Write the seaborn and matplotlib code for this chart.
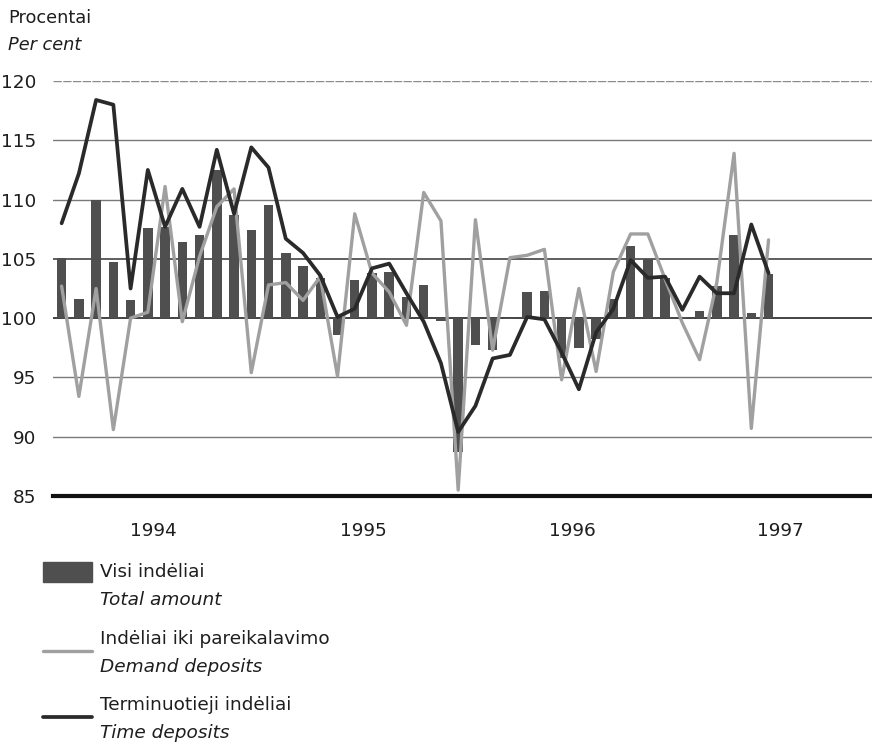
import numpy as np
import pandas as pd
import matplotlib
matplotlib.use("Agg")
import matplotlib.pyplot as plt
from matplotlib.patches import Rectangle
from matplotlib.lines import Line2D
import seaborn as sns

# monthly index values, Jan 1994 - Jun 1997 (same month previous year = 100)
months = pd.period_range("1994-01", periods=42, freq="M").strftime("%Y-%m").tolist()
total = [105.1, 101.6, 110.0, 104.7, 101.5, 107.6, 107.7, 106.4, 107.0, 112.5,
         108.7, 107.4, 109.5, 105.5, 104.4, 103.4, 98.6, 103.2, 103.8, 103.9,
         101.8, 102.8, 99.8, 88.7, 97.7, 97.3, 99.9, 102.2, 102.3, 96.6,
         97.5, 98.2, 101.6, 106.1, 105.0, 103.4, 100.1, 100.6, 102.7, 107.0,
         100.4, 103.7]
demand = [102.7, 93.4, 102.5, 90.6, 100.0, 100.5, 111.1, 99.7, 105.2, 109.4,
          110.9, 95.4, 102.8, 103.0, 101.5, 103.5, 95.1, 108.8, 103.8, 102.2,
          99.4, 110.6, 108.2, 85.5, 108.3, 97.3, 105.1, 105.3, 105.8, 94.8,
          102.5, 95.5, 103.9, 107.1, 107.1, 103.3, 99.6, 96.5, 103.0, 113.9,
          90.7, 106.6]
time_dep = [108.0, 112.2, 118.4, 118.0, 102.5, 112.5, 107.7, 110.9, 107.7, 114.2,
            108.8, 114.4, 112.7, 106.7, 105.5, 103.6, 100.1, 100.8, 104.2, 104.6,
            102.1, 99.7, 96.2, 90.4, 92.6, 96.6, 96.9, 100.1, 99.9, 97.1,
            94.0, 98.8, 100.8, 104.9, 103.4, 103.5, 100.7, 103.5, 102.1, 102.1,
            107.9, 103.8]
years = ["1994", "1995", "1996", "1997"]
year_pos = [5.3, 17.5, 29.6, 41.7]
yticks = [85, 90, 95, 100, 105, 110, 115, 120]

df = pd.DataFrame({"month": months, "total": total, "demand": demand, "time": time_dep})
df["i"] = np.arange(len(df))
df["total_dev"] = df["total"] - 100

W, H = 872, 748
fig = plt.figure(figsize=(W / 100, H / 100), dpi=100)
sns.set_style("white")
plt.rcParams["font.family"] = ["DejaVu Sans"]
FS = 13.3
TXT = "#1e1e1e"

ax = fig.add_axes([53 / W, 1 - 496 / H, (W - 53) / W, (496 - 81) / H])

# grid first, behind everything
for v in [90, 95, 110, 115]:
    ax.axhline(v, color="#7a7a7a", lw=1.0, zorder=0)
ax.axhline(120, color="#8a8a8a", lw=1.0, ls=(0, (6, 1)), zorder=0)
ax.axhline(105, color="#333333", lw=1.1, zorder=0)
ax.axhline(100, color="#222222", lw=1.2, zorder=0)

bar_color = "#4f4f4f"
sns.barplot(data=df, x="i", y="total_dev", native_scale=True, width=0.55,
            color=bar_color, saturation=1, bottom=100, ax=ax, zorder=2,
            edgecolor="none")
sns.lineplot(data=df, x="i", y="demand", color="#a0a0a0", lw=2.4, ax=ax, zorder=3)
sns.lineplot(data=df, x="i", y="time", color="#2a2a2a", lw=2.7, ax=ax, zorder=4)

ax.set_xlim(-0.5, 47.0)
ax.set_ylim(85, 120)
ax.set_yticks(yticks)
ax.set_yticklabels([str(t) for t in yticks], fontsize=FS, color=TXT)
ax.set_xticks(year_pos)
ax.set_xticklabels(years, fontsize=FS, color=TXT)
ax.tick_params(axis="both", length=0)
ax.tick_params(axis="y", pad=12)
ax.tick_params(axis="x", pad=19)
ax.set_xlabel("")
ax.set_ylabel("")
for s in ["top", "right", "left"]:
    ax.spines[s].set_visible(False)
ax.spines["bottom"].set_linewidth(3)
ax.spines["bottom"].set_color("#111111")

def fx(px):
    return px / W

def fy(py):
    return 1 - py / H

fig.text(fx(8), fy(18), "Procentai", fontsize=FS - 0.5, va="center", color=TXT)
fig.text(fx(8), fy(45), "Per cent", fontsize=FS - 0.5, va="center", style="italic", color=TXT)

# legend
fig.add_artist(Rectangle((fx(43), fy(582)), fx(49), (582 - 562) / H, color=bar_color))
fig.text(fx(100), fy(572), "Visi indėliai", fontsize=FS, va="center", color=TXT)
fig.text(fx(100), fy(600), "Total amount", fontsize=FS, va="center", style="italic", color=TXT)

fig.add_artist(Line2D([fx(43), fx(92)], [fy(651), fy(651)], color="#a0a0a0", lw=2.4))
fig.text(fx(100), fy(639), "Indėliai iki pareikalavimo", fontsize=FS, va="center", color=TXT)
fig.text(fx(100), fy(667), "Demand deposits", fontsize=FS, va="center", style="italic", color=TXT)

fig.add_artist(Line2D([fx(43), fx(92)], [fy(717), fy(717)], color="#2a2a2a", lw=2.7))
fig.text(fx(100), fy(705), "Terminuotieji indėliai", fontsize=FS, va="center", color=TXT)
fig.text(fx(100), fy(733), "Time deposits", fontsize=FS, va="center", style="italic", color=TXT)

fig.savefig("out.png", dpi=100)
